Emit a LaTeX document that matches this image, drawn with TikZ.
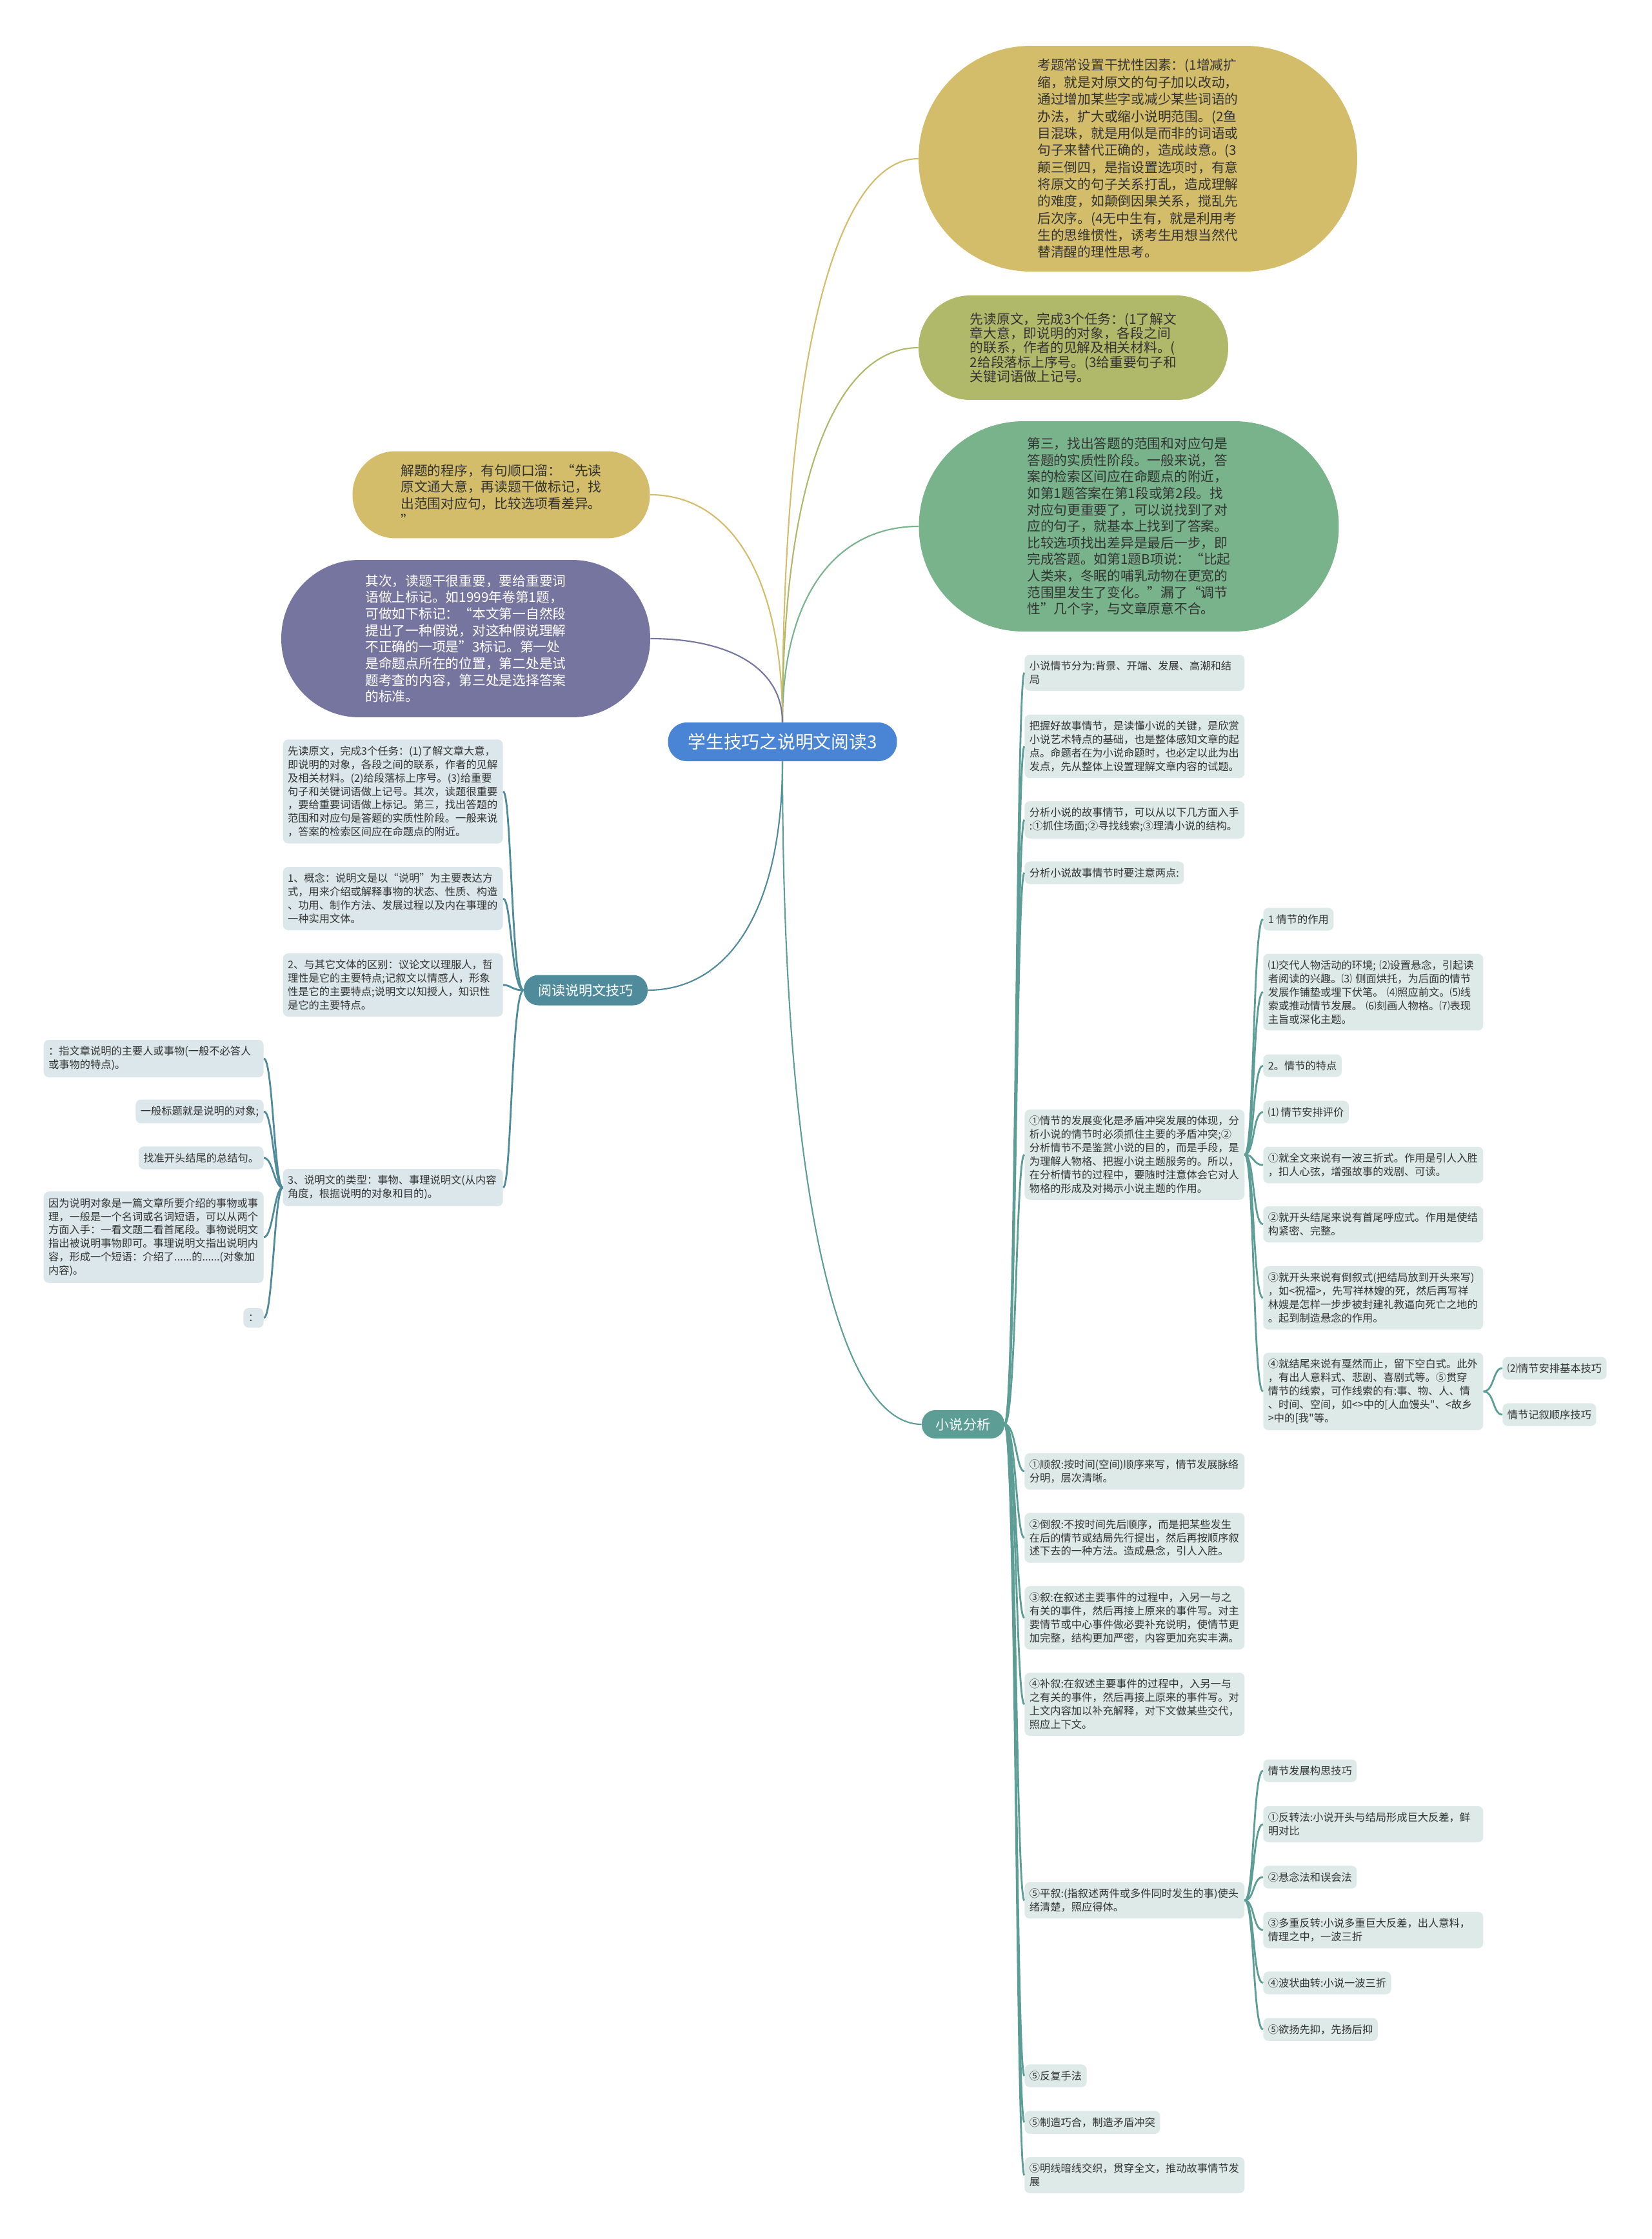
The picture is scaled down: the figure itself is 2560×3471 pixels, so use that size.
\documentclass[tikz,border=0pt]{standalone}
\usepackage{fontspec}
\newfontfamily\cjk{Noto Sans CJK SC}
\usetikzlibrary{positioning}
\definecolor{rootblue}{HTML}{4A84D4}
\definecolor{mmkhaki}{HTML}{D4BD6A}
\definecolor{mmolive}{HTML}{B0B86A}
\definecolor{mmgreen}{HTML}{78B38B}
\definecolor{mmpurple}{HTML}{7675A0}
\definecolor{readteal}{HTML}{4F8B9B}
\definecolor{novelteal}{HTML}{5C9E96}
\definecolor{leafL}{HTML}{DCE7EB}
\definecolor{leafR}{HTML}{DDEAE8}
\definecolor{inkdark}{HTML}{333333}

\begin{document}
\begin{tikzpicture}[x=0.02cm, y=-0.02cm,
  bubble/.style={align=left, inner sep=0pt, text=inkdark,
    font=\cjk\fontsize{11.8}{#1}\selectfont},
  hub/.style={text=white, inner sep=0pt, font=\cjk\fontsize{12}{14}\selectfont},
  leaf/.style={fill=leafR, align=left, inner xsep=0.15cm, inner ysep=0.2cm,
    rounded corners=0.16cm, text=inkdark,
    font=\cjk\fontsize{9.25}{11.9}\selectfont},
  leftleaf/.style={leaf, fill=leafL},
  wide/.style={text width=6.52cm},
  mainline/.style={line width=1.2pt},
  subline/.style={line width=1.6pt}]

% Background
\fill[white] (0,0) rectangle (2560,3471);
\useasboundingbox (0,0) rectangle (2560,3471);

% Root
\node[fill=rootblue, text=white, rounded corners=0.58cm, minimum width=7.1cm,
      minimum height=1.2cm, inner sep=0pt, font=\cjk\fontsize{15.8}{18}\selectfont]
      (root) at (1213,1150) {学生技巧之说明文阅读3};

% Upper right bubbles
\node[bubble=15, fill=mmkhaki, minimum width=13.6cm, minimum height=7cm,
      rounded corners=3.48cm] (distract) at (1764,246)
      {考题常设置干扰性因素：(1增减扩\\缩，就是对原文的句子加以改动，\\通过增加某些字或减少某些词语的\\办法，扩大或缩小说明范围。(2鱼\\目混珠，就是用似是而非的词语或\\句子来替代正确的，造成歧意。(3\\颠三倒四，是指设置选项时，有意\\将原文的句子关系打乱，造成理解\\的难度，如颠倒因果关系，搅乱先\\后次序。(4无中生有，就是利用考\\生的思维惯性，诱考生用想当然代\\替清醒的理性思考。};
\node[bubble=12.6, fill=mmolive, minimum width=9.6cm, minimum height=3.24cm,
      rounded corners=1.6cm] (tasks) at (1664,539)
      {先读原文，完成3个任务：(1了解文\\章大意，即说明的对象，各段之间\\的联系，作者的见解及相关材料。(\\2给段落标上序号。(3给重要句子和\\关键词语做上记号。};
\node[bubble=14.6, fill=mmgreen, minimum width=13.02cm, minimum height=6.52cm,
      rounded corners=3.24cm] (third) at (1750,816)
      {第三，找出答题的范围和对应句是\\答题的实质性阶段。一般来说，答\\案的检索区间应在命题点的附近，\\如第1题答案在第1段或第2段。找\\对应句更重要了，可以说找到了对\\应的句子，就基本上找到了答案。\\比较选项找出差异是最后一步，即\\完成答题。如第1题B项说：“比起\\人类来，冬眠的哺乳动物在更宽的\\范围里发生了变化。”漏了“调节\\性”几个字，与文章原意不合。};

% Upper left bubbles
\node[bubble=14.6, fill=mmkhaki, minimum width=9.22cm, minimum height=2.7cm,
      rounded corners=1.33cm] (rhyme) at (777,767)
      {解题的程序，有句顺口溜：“先读\\原文通大意，再读题干做标记，找\\出范围对应句，比较选项看差异。\\”};
\node[bubble=14.6, fill=mmpurple, text=white, minimum width=11.44cm,
      minimum height=4.88cm, rounded corners=2.42cm] (second) at (722,990)
      {其次，读题干很重要，要给重要词\\语做上标记。如1999年卷第1题，\\可做如下标记：“本文第一自然段\\提出了一种假说，对这种假说理解\\不正确的一项是”3标记。第一处\\是命题点所在的位置，第二处是试\\题考查的内容，第三处是选择答案\\的标准。};

% Hubs
\node[hub, fill=readteal, minimum width=3.84cm, minimum height=0.94cm,
      rounded corners=0.45cm] (read) at (908,1535) {阅读说明文技巧};
\node[hub, fill=novelteal, minimum width=2.56cm, minimum height=0.88cm,
      rounded corners=0.42cm] (novel) at (1493,2208) {小说分析};

% Left leaves
\node[leftleaf, wide, anchor=east] (rd1) at (780,1227)
      {先读原文，完成3个任务：(1)了解文章大意，\\即说明的对象，各段之间的联系，作者的见解\\及相关材料。(2)给段落标上序号。(3)给重要\\句子和关键词语做上记号。其次，读题很重要\\，要给重要词语做上标记。第三，找出答题的\\范围和对应句是答题的实质性阶段。一般来说\\，答案的检索区间应在命题点的附近。};
\node[leftleaf, wide, anchor=east] (rd2) at (780,1393)
      {1、概念：说明文是以“说明”为主要表达方\\式，用来介绍或解释事物的状态、性质、构造\\、功用、制作方法、发展过程以及内在事理的\\一种实用文体。};
\node[leftleaf, wide, anchor=east] (rd3) at (780,1527)
      {2、与其它文体的区别：议论文以理服人，哲\\理性是它的主要特点;记叙文以情感人，形象\\性是它的主要特点;说明文以知授人，知识性\\是它的主要特点。};
\node[leftleaf, wide, anchor=east] (rd4) at (780,1841)
      {3、说明文的类型：事物、事理说明文(从内容\\角度，根据说明的对象和目的)。};

\node[leftleaf, wide, anchor=east] (obj1) at (409,1641)
      {：指文章说明的主要人或事物(一般不必答人\\或事物的特点)。};
\node[leftleaf, anchor=east] (obj2) at (409,1723) {一般标题就是说明的对象;};
\node[leftleaf, anchor=east] (obj3) at (409,1795) {找准开头结尾的总结句。};
\node[leftleaf, wide, anchor=east] (obj4) at (409,1918)
      {因为说明对象是一篇文章所要介绍的事物或事\\理，一般是一个名词或名词短语，可以从两个\\方面入手：一看文题二看首尾段。事物说明文\\指出被说明事物即可。事理说明文指出说明内\\容，形成一个短语：介绍了......的......(对象加\\内容)。};
\node[leftleaf, anchor=east] (obj5) at (409,2043) {：};

% Right leaves
\node[leaf, wide, anchor=west] (nv1) at (1588,1043)
      {小说情节分为:背景、开端、发展、高潮和结\\局};
\node[leaf, wide, anchor=west] (nv2) at (1588,1157)
      {把握好故事情节，是读懂小说的关键，是欣赏\\小说艺术特点的基础，也是整体感知文章的起\\点。命题者在为小说命题时，也必定以此为出\\发点，先从整体上设置理解文章内容的试题。};
\node[leaf, wide, anchor=west] (nv3) at (1588,1271)
      {分析小说的故事情节，可以从以下几方面入手\\:①抓住场面;②寻找线索;③理清小说的结构。};
\node[leaf, anchor=west] (nv4) at (1588,1353) {分析小说故事情节时要注意两点:};
\node[leaf, wide, anchor=west] (nv5) at (1588,1790)
      {①情节的发展变化是矛盾冲突发展的体现，分\\析小说的情节时必须抓住主要的矛盾冲突;②\\分析情节不是鉴赏小说的目的，而是手段，是\\为理解人物格、把握小说主题服务的。所以，\\在分析情节的过程中，要随时注意体会它对人\\物格的形成及对揭示小说主题的作用。};
\node[leaf, wide, anchor=west] (nv6) at (1588,2281)
      {①顺叙:按时间(空间)顺序来写，情节发展脉络\\分明，层次清晰。};
\node[leaf, wide, anchor=west] (nv7) at (1588,2384)
      {②倒叙:不按时间先后顺序，而是把某些发生\\在后的情节或结局先行提出，然后再按顺序叙\\述下去的一种方法。造成悬念，引人入胜。};
\node[leaf, wide, anchor=west] (nv8) at (1588,2508)
      {③叙:在叙述主要事件的过程中，入另一与之\\有关的事件，然后再接上原来的事件写。对主\\要情节或中心事件做必要补充说明，使情节更\\加完整，结构更加严密，内容更加充实丰满。};
\node[leaf, wide, anchor=west] (nv9) at (1588,2642)
      {④补叙:在叙述主要事件的过程中，入另一与\\之有关的事件，然后再接上原来的事件写。对\\上文内容加以补充解释，对下文做某些交代，\\照应上下文。};
\node[leaf, wide, anchor=west] (nv10) at (1588,2946)
      {⑤平叙:(指叙述两件或多件同时发生的事)使头\\绪清楚，照应得体。};
\node[leaf, anchor=west] (nv11) at (1588,3218) {⑤反复手法};
\node[leaf, anchor=west] (nv12) at (1588,3290) {⑤制造巧合，制造矛盾冲突};
\node[leaf, wide, anchor=west] (nv13) at (1588,3372)
      {⑤明线暗线交织，贯穿全文，推动故事情节发\\展};

% Plot effect leaves
\node[leaf, anchor=west] (ef1) at (1958,1425) {1 情节的作用};
\node[leaf, wide, anchor=west] (ef2) at (1958,1538)
      {⑴交代人物活动的环境;~⑵设置悬念，引起读\\者阅读的兴趣。⑶~侧面烘托，为后面的情节\\发展作铺垫或埋下伏笔。~⑷照应前文。⑸线\\索或推动情节发展。~⑹刻画人物格。⑺表现\\主旨或深化主题。};
\node[leaf, anchor=west] (ef3) at (1958,1652) {2。情节的特点};
\node[leaf, anchor=west] (ef4) at (1958,1724) {⑴ 情节安排评价};
\node[leaf, wide, anchor=west] (ef5) at (1958,1806)
      {①就全文来说有一波三折式。作用是引人入胜\\，扣人心弦，增强故事的戏剧、可读。};
\node[leaf, wide, anchor=west] (ef6) at (1958,1898)
      {②就开头结尾来说有首尾呼应式。作用是使结\\构紧密、完整。};
\node[leaf, wide, anchor=west] (ef7) at (1958,2012)
      {③就开头来说有倒叙式(把结局放到开头来写)\\，如<祝福>，先写祥林嫂的死，然后再写祥\\林嫂是怎样一步步被封建礼教逼向死亡之地的\\。起到制造悬念的作用。};
\node[leaf, wide, anchor=west] (ef8) at (1958,2157)
      {④就结尾来说有戛然而止，留下空白式。此外\\，有出人意料式、悲剧、喜剧式等。⑤贯穿\\情节的线索，可作线索的有:事、物、人、情\\、时间、空间，如<>中的[人血馒头"、<故乡\\>中的[我"等。};
\node[leaf, anchor=west] (tq1) at (2329,2121) {⑵情节安排基本技巧};
\node[leaf, anchor=west] (tq2) at (2329,2193) {情节记叙顺序技巧};

% Plot building leaves
\node[leaf, anchor=west] (bld1) at (1958,2745) {情节发展构思技巧};
\node[leaf, wide, anchor=west] (bld2) at (1958,2828)
      {①反转法:小说开头与结局形成巨大反差，鲜\\明对比};
\node[leaf, anchor=west] (bld3) at (1958,2910) {②悬念法和误会法};
\node[leaf, wide, anchor=west] (bld4) at (1958,2992)
      {③多重反转:小说多重巨大反差，出人意料，\\情理之中，一波三折};
\node[leaf, anchor=west] (bld5) at (1958,3074) {④波状曲转:小说一波三折};
\node[leaf, anchor=west] (bld6) at (1958,3146) {⑤欲扬先抑，先扬后抑};

% Main branches
\draw[mainline, mmkhaki] (root.north) to[out=90, in=180, out distance=11.36cm, in distance=2.54cm] (distract.west);
\draw[mainline, mmolive] (root.north) to[out=90, in=180, out distance=7.56cm, in distance=2.54cm] (tasks.west);
\draw[mainline, mmgreen] (root.north) to[out=90, in=180, out distance=3.96cm, in distance=2.54cm] (third.west);
\draw[mainline, mmkhaki] (root.north) to[out=90, in=0, out distance=4.58cm, in distance=2.46cm] (rhyme.east);
\draw[mainline, mmpurple] (root.north) to[out=90, in=0, out distance=1.68cm, in distance=2.46cm] (second.east);
\draw[mainline, readteal] (root.south) to[out=-90, in=0, out distance=4.62cm, in distance=2.5cm] (read.east);
\draw[mainline, novelteal] (root.south) to[out=-90, in=180, out distance=13.36cm, in distance=2.58cm] (novel.west);

% Sub branches
\foreach \i in {1,...,4}
  \draw[subline, readteal] (read.west) to[out=180, in=0, out distance=0.38cm, in distance=0.26cm] (rd\i.east);
\foreach \i in {1,...,5}
  \draw[subline, readteal] (rd4.west) to[out=180, in=0, out distance=0.26cm, in distance=0.28cm] (obj\i.east);
\foreach \i in {1,...,13}
  \draw[subline, novelteal] (novel.east) to[out=0, in=180, out distance=0.36cm, in distance=0.26cm] (nv\i.west);
\foreach \i in {1,...,8}
  \draw[subline, novelteal] (nv5.east) to[out=0, in=180, out distance=0.3cm, in distance=0.32cm] (ef\i.west);
\foreach \i in {1,2}
  \draw[subline, novelteal] (ef8.east) to[out=0, in=180, out distance=0.34cm, in distance=0.3cm] (tq\i.west);
\foreach \i in {1,...,6}
  \draw[subline, novelteal] (nv10.east) to[out=0, in=180, out distance=0.3cm, in distance=0.32cm] (bld\i.west);

\end{tikzpicture}
\end{document}
